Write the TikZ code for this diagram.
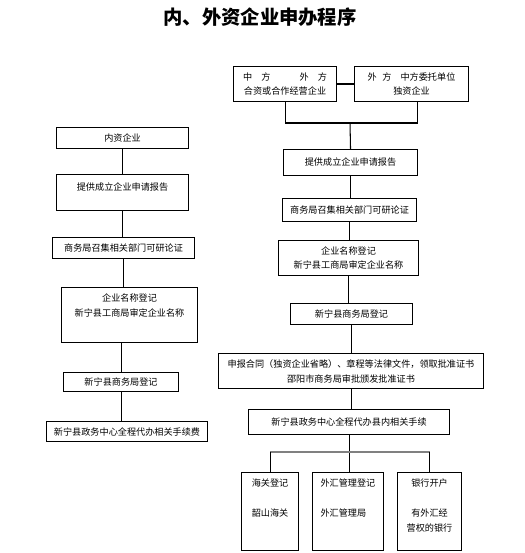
\documentclass[tikz,border=0pt]{standalone}
\usepackage{fontspec}
\newfontfamily\cjk{Noto Sans CJK SC}
\newlength\pxu
\setlength\pxu{0.02cm}

\begin{document}
\begin{tikzpicture}[x=0.02cm,y=-0.02cm,
	box/.style={draw,line width=0.6pt,inner sep=0pt,anchor=north west,align=center,
		font=\cjk\fontsize{5.2pt}{8.5pt}\selectfont},
	ln/.style={line width=0.6pt}]
	
	\useasboundingbox (0,0) rectangle (524,553);
	
	\node[font=\cjk\bfseries\fontsize{11pt}{13pt}\selectfont] (T) at (260,17) {内、外资企业申办程序};
	
	\node[box,minimum width=132*\pxu,minimum height=21*\pxu] (N1) at (56,127) {内资企业};
	\node[box,minimum width=132*\pxu,minimum height=36*\pxu] (N2) at (56,174)
	{\parbox[c][36\pxu][t]{132\pxu}{\centering\vspace*{8\pxu}提供成立企业申请报告}};
	\node[box,minimum width=142*\pxu,minimum height=21*\pxu] (N3) at (52,237) {商务局召集相关部门可研论证};
	\node[box,minimum width=136*\pxu,minimum height=55*\pxu] (N4) at (61,287)
	{\parbox[c][55\pxu][t]{136\pxu}{\centering\vspace*{6\pxu}企业名称登记\\新宁县工商局审定企业名称}};
	\node[box,minimum width=115*\pxu,minimum height=19*\pxu] (N5) at (63,372) {新宁县商务局登记};
	\node[box,minimum width=161*\pxu,minimum height=20*\pxu] (N6) at (46,421) {新宁县政务中心全程代办相关手续费};
	
	\node[box,minimum width=103*\pxu,minimum height=35*\pxu] (HZ) at (233,66)
	{中\hspace{1em}方\hspace{3.2em}外\hspace{1em}方\\合资或合作经营企业};
	\node[box,minimum width=114*\pxu,minimum height=35*\pxu] (DZ) at (354,66)
	{外\hspace{0.6em}方\hspace{1em}中方委托单位\\独资企业};
	\node[box,minimum width=134*\pxu,minimum height=26*\pxu] (W1) at (283,149) {提供成立企业申请报告};
	\node[box,minimum width=134*\pxu,minimum height=23*\pxu] (W2) at (282,198) {商务局召集相关部门可研论证};
	\node[box,minimum width=140*\pxu,minimum height=35*\pxu] (W3) at (278,240) {企业名称登记\\新宁县工商局审定企业名称};
	\node[box,minimum width=122*\pxu,minimum height=21*\pxu] (W4) at (290,303) {新宁县商务局登记};
	\node[box,minimum width=265*\pxu,minimum height=35*\pxu] (W5) at (218,353)
	{申报合同（独资企业省略）、章程等法律文件，领取批准证书\\邵阳市商务局审批颁发批准证书};
	\node[box,minimum width=201*\pxu,minimum height=25*\pxu] (W6) at (248,409) {新宁县政务中心全程代办县内相关手续};
	
	\node[box,minimum width=57*\pxu,minimum height=78*\pxu] (HG) at (241,472)
	{\parbox[c][78\pxu][t]{57\pxu}{\centering\vspace*{6\pxu}海关登记\\[9pt]韶山海关}};
	\node[box,minimum width=71*\pxu,minimum height=78*\pxu] (WH) at (312,472)
	{\parbox[c][78\pxu][t]{71\pxu}{\raggedright\vspace*{6\pxu}\hspace*{8\pxu}外汇管理登记\\[9pt]\hspace*{8\pxu}外汇管理局}};
	\node[box,minimum width=64*\pxu,minimum height=78*\pxu] (YH) at (397,472)
	{\parbox[c][78\pxu][t]{64\pxu}{\centering\vspace*{6\pxu}银行开户\\[9pt]有外汇经\\营权的银行}};
	
	\draw[ln] (N1) -- (N2);
	\draw[ln] (N2.south) -- (N2.south |- N3.north);
	\draw[ln] (N3.south) -- (N3.south |- N4.north);
	\draw[ln] (N5.north |- N4.south) -- (N5.north);
	\draw[ln] (N5.south) -- (N5.south |- N6.north);
	
	\coordinate (jt) at (350,123);
	\draw[ln] (HZ.east) -- (DZ.west);
	\draw[ln] (HZ.south) |- (jt) -| ([xshift=6\pxu]DZ.south);
	\draw[ln] (jt) -- (W1.north);
	\draw[ln] (W1.south) -- (W1.south |- W2.north);
	\draw[ln] (W2.south) -- (W2.south |- W3.north);
	\draw[ln] (W3.south) -- (W3.south |- W4.north);
	\draw[ln] (W4.south) -- (W4.south |- W5.north);
	\draw[ln] (W5.south) -- (W5.south |- W6.north);
	
	\coordinate (jb) at (348,452);
	\draw[ln] (W6.south) -- (W6.south |- WH.north);
	\draw[ln,gray] (HG.north |- jb) -- (YH.north |- jb);
	\draw[ln] (HG.north |- jb) -- (HG.north);
	\draw[ln] (YH.north |- jb) -- (YH.north);
	
\end{tikzpicture}
\end{document}
